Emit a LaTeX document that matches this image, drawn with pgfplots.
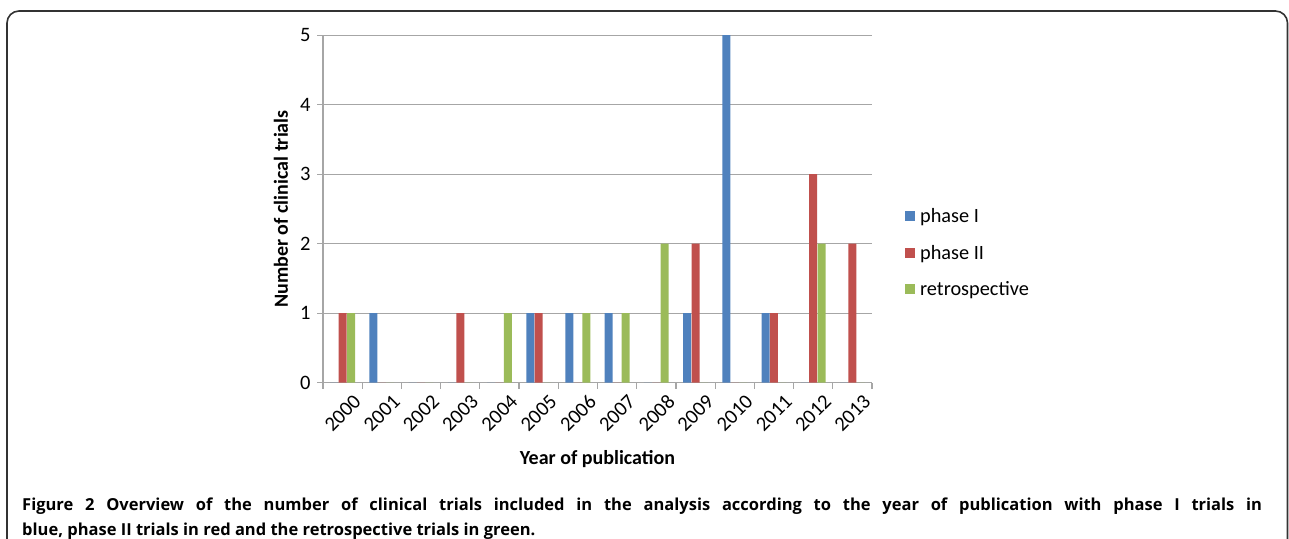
\documentclass[border=0pt]{standalone}
\usepackage{pgfplots}
\pgfplotsset{compat=1.18}
\usepackage{fontspec}
\setmainfont{Carlito}
\newfontfamily\capfont{Open Sans}
\definecolor{cblue}{HTML}{4F81BD}
\definecolor{cred}{HTML}{C0504D}
\definecolor{cgreen}{HTML}{9BBB59}
\definecolor{gridc}{HTML}{A6A6A6}
\begin{document}
\begin{tikzpicture}
\path[use as bounding box] (0pt,0pt) rectangle (1289pt,538pt);
\draw[line width=1.6pt, rounded corners=12pt, black!80] (7pt,-40pt) -- (7pt,527pt) -- (1287.5pt,527pt) -- (1287.5pt,-40pt);
\begin{axis}[
  at={(323pt,155.3pt)}, anchor=south west,
  scale only axis, width=549pt, height=347.5pt,
  xmin=-0.5, xmax=13.5, ymin=0, ymax=5,
  ybar=0.4pt, bar width=8pt,
  xtick={0,...,13},
  xticklabels={2000,2001,2002,2003,2004,2005,2006,2007,2008,2009,2010,2011,2012,2013},
  minor xtick={-0.5,0.5,...,13.5},
  ytick={0,...,5},
  axis x line*=bottom, axis y line*=left,
  axis line style={gridc, line width=1.2pt, -},
  ymajorgrids, major grid style={gridc, line width=1.2pt},
  tick align=outside,
  major tick length=6pt, minor tick length=6pt,
  every tick/.style={gridc, line width=1.2pt},
  major x tick style={draw=none},
  /pgf/number format/assume math mode=true,
  tick label style={font=\fontsize{20.5}{23}\selectfont},
  x tick label style={rotate=45, anchor=north east, xshift=7pt, yshift=-7pt},
  y tick label style={xshift=-3pt},
  ylabel={Number of clinical trials},
  xlabel={Year of publication},
  label style={font=\bfseries\fontsize{20}{23}\selectfont},
  ylabel style={at={(rel axis cs:-0.0765,0.5)}, anchor=center},
  xlabel style={at={(rel axis cs:0.5,-0.22)}, anchor=center},
  legend style={at={(rel axis cs:1.06,0.502)}, anchor=north west, draw=none, fill=none,
    font=\fontsize{20.3}{23}\selectfont, row sep=21pt, inner sep=0pt,
    nodes={inner xsep=5pt, inner ysep=0pt}},
  legend cell align=left,
  legend image code/.code={\fill[#1] (0pt,-5pt) rectangle (10pt,5pt);},
  enlargelimits=false, clip=false,
]
\addplot[fill=cblue, draw=none] coordinates {(0,0) (1,1) (2,0) (3,0) (4,0) (5,1) (6,1) (7,1) (8,0) (9,1) (10,5) (11,1) (12,0) (13,0)};
\addplot[fill=cred, draw=none] coordinates {(0,1) (1,0) (2,0) (3,1) (4,0) (5,1) (6,0) (7,0) (8,0) (9,2) (10,0) (11,1) (12,3) (13,2)};
\addplot[fill=cgreen, draw=none] coordinates {(0,1) (1,0) (2,0) (3,0) (4,1) (5,0) (6,1) (7,1) (8,2) (9,0) (10,0) (11,0) (12,2) (13,0)};
\legend{phase I, phase II, retrospective}
\end{axis}
\node[anchor=base west, inner sep=0pt] at (22pt,28pt) {\capfont\bfseries\fontsize{16.5}{20}\selectfont\makebox[1240pt][s]{Figure 2 Overview of the number of clinical trials included in the analysis according to the year of publication with phase I trials in}};
\node[anchor=base west, inner sep=0pt] at (22pt,3pt) {\capfont\bfseries\fontsize{16.5}{20}\selectfont blue, phase II trials in red and the retrospective trials in green.};
\end{tikzpicture}
\end{document}
